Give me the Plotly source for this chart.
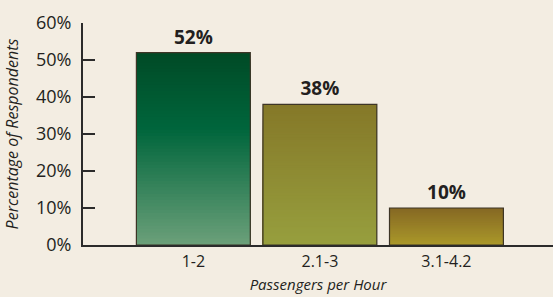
import plotly.graph_objects as go

categories = ["1-2", "2.1-3", "3.1-4.2"]
values = [52, 38, 10]
value_labels = ["52%", "38%", "10%"]
y_ticks = [0, 10, 20, 30, 40, 50, 60]
y_tick_labels = ["0%", "10%", "20%", "30%", "40%", "50%", "60%"]

# gradient stops per bar: (fraction from bottom, rgb)
stops = [
    [(0.0, (108, 160, 122)), (0.6, (0, 102, 60)), (1.0, (0, 74, 38))],
    [(0.0, (151, 159, 62)), (1.0, (133, 120, 40))],
    [(0.0, (170, 152, 42)), (1.0, (133, 104, 36))],
]

def interp(st, t):
    for (t0, c0), (t1, c1) in zip(st[:-1], st[1:]):
        if t0 <= t <= t1:
            f = (t - t0) / (t1 - t0) if t1 > t0 else 0
            return "rgb(%d,%d,%d)" % tuple(round(a + (b - a) * f) for a, b in zip(c0, c1))
    c = st[-1][1]
    return "rgb(%d,%d,%d)" % c

N = 60
fig = go.Figure()
for k in range(N):
    frac = (N - k) / N
    fig.add_trace(go.Bar(
        x=categories,
        y=[v * frac for v in values],
        marker=dict(color=[interp(stops[i], frac - 0.5 / N) for i in range(len(values))],
                    line=dict(width=0)),
        width=0.9,
        hoverinfo="skip",
        showlegend=False,
    ))

fig.add_trace(go.Bar(
    x=categories,
    y=values,
    text=value_labels,
    textposition="outside",
    textfont=dict(family="Open Sans", size=19, color="#231f20", weight="bold"),
    marker=dict(color="rgba(0,0,0,0)", line=dict(color="#3d3526", width=1.2)),
    width=0.9,
    cliponaxis=False,
    hoverinfo="skip",
    showlegend=False,
))

fig.update_layout(
    barmode="overlay",
    width=553, height=297,
    margin=dict(l=83, r=0, t=23, b=52, autoexpand=False),
    paper_bgcolor="#f3ede2",
    plot_bgcolor="#f3ede2",
    font=dict(family="Open Sans", color="#231f20"),
    xaxis=dict(
        range=[-0.872, 2.842],
        automargin=False,
        showline=True, linecolor="#2b2b2b", linewidth=2,
        ticks="", showgrid=False, zeroline=False,
        ticklabelstandoff=1,
        tickfont=dict(size=16, color="#231f20"),
        title=dict(text="Passengers per Hour", standoff=8,
                   font=dict(size=15, style="italic", color="#231f20")),
    ),
    yaxis=dict(
        range=[0, 60],
        automargin=False,
        tickvals=y_ticks, ticktext=y_tick_labels,
        showline=True, linecolor="#2b2b2b", linewidth=2,
        ticks="inside", ticklen=12, tickwidth=2, tickcolor="#2b2b2b",
        ticklabelstandoff=6,
        showgrid=False, zeroline=False,
        tickfont=dict(size=18, color="#231f20"),
        title=dict(text="Percentage of Respondents", standoff=13,
                   font=dict(size=16, style="italic", color="#231f20")),
    ),
)

fig.write_html(
    "out.html",
    config={"displayModeBar": False},
    post_script="document.body.style.margin='0';document.body.style.background='#f3ede2';",
)
